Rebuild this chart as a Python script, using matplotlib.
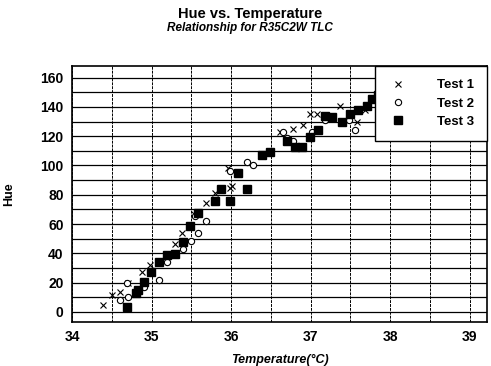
import numpy as np
import matplotlib.pyplot as plt

plt.rcParams['font.family'] = ['Liberation Sans', 'DejaVu Sans']

# Test 1 (x markers)
t1_temp = [34.39, 34.50, 34.60, 34.71, 34.88, 34.98, 35.30, 35.38, 35.53, 35.69,
           35.80, 35.96, 35.99, 36.01, 36.62, 36.78, 36.91, 36.99, 37.08, 37.37,
           37.58, 37.69]
t1_hue = [4.7, 11.5, 13.7, 19.4, 27.2, 31.8, 46.4, 54.0, 66.7, 74.5,
          81.3, 98.0, 84.7, 85.8, 123.0, 125.0, 128.0, 135.0, 135.0, 141.0,
          129.7, 137.6]

# Test 2 (open circles)
t2_temp = [34.60, 34.69, 34.71, 34.90, 35.09, 35.20, 35.40, 35.50, 35.55, 35.59,
           35.69, 35.99, 36.20, 36.28, 36.65, 36.70, 36.78, 37.02, 37.18, 37.48,
           37.56]
t2_hue = [8.0, 20.0, 10.4, 17.0, 21.6, 34.0, 43.0, 48.6, 65.5, 54.0,
          62.0, 96.0, 102.7, 100.5, 123.0, 118.5, 117.0, 123.0, 131.0, 131.0,
          124.5]

# Test 3 (filled squares)
t3_temp = [34.69, 34.81, 34.83, 34.90, 34.99, 35.09, 35.20, 35.30, 35.40, 35.48,
           35.59, 35.80, 35.88, 35.99, 36.09, 36.20, 36.39, 36.49, 36.70, 36.80,
           36.89, 36.99, 37.10, 37.18, 37.27, 37.39, 37.50, 37.60, 37.71, 37.77,
           37.85]
t3_hue = [3.6, 12.6, 15.0, 20.5, 27.0, 34.0, 38.5, 39.7, 47.5, 58.8,
          67.8, 75.7, 83.6, 75.7, 94.8, 83.6, 107.0, 109.5, 117.0, 112.8,
          112.8, 119.6, 124.0, 134.0, 133.0, 129.7, 135.3, 137.6, 141.0, 145.5,
          148.0]

fig = plt.figure(figsize=(4.91, 3.66), dpi=100)
ax = fig.add_axes([0.1466, 0.120, 0.8454, 0.6997])

ax.plot(t1_temp, t1_hue, 'x', color='black', markersize=4.5, markeredgewidth=0.8,
        label='Test 1')
ax.plot(t2_temp, t2_hue, 'o', mfc='white', mec='black', markersize=4.5,
        markeredgewidth=0.8, label='Test 2')
ax.plot(t3_temp, t3_hue, 's', color='black', markersize=5.2, label='Test 3')

ax.set_xlim(34, 39.22)
ax.set_ylim(-7, 168)
ax.set_xticks(np.arange(34, 39.5, 0.5), minor=True)
ax.set_xticks(np.arange(34, 40, 1))
ax.set_yticks(np.arange(0, 170, 10), minor=True)
ax.set_yticks(np.arange(0, 170, 20))
ax.grid(which='both', axis='y', color='black', linewidth=0.9)
ax.grid(which='both', axis='x', color='black', linewidth=0.7, linestyle=(0, (3, 1)))
ax.tick_params(which='both', length=0, labelsize=10, pad=6)
for lab in ax.get_xticklabels() + ax.get_yticklabels():
    lab.set_fontweight('bold')
for s in ax.spines.values():
    s.set_linewidth(1.2)

ax.set_xlabel('Temperature(\u00b0C)', fontsize=9, fontweight='bold', style='italic',
              labelpad=7)
ax.set_ylabel('Hue', fontsize=9, fontweight='bold', labelpad=18)

leg = ax.legend(loc='upper right', bbox_to_anchor=(0.73, 0.715, 0.27, 0.285),
                mode='expand', borderaxespad=0, frameon=True, fancybox=False,
                framealpha=1, prop={'weight': 'bold', 'size': 9.5},
                handletextpad=2.2, labelspacing=0.45, borderpad=1.0,
                handlelength=1.5)
leg.get_frame().set_edgecolor('black')
leg.get_frame().set_linewidth(1.0)
leg.set_zorder(5)

fig.text(0.51, 0.963, 'Hue vs. Temperature', ha='center', va='center',
         fontsize=10.5, fontweight='bold')
fig.text(0.51, 0.924, 'Relationship for R35C2W TLC', ha='center', va='center',
         fontsize=8.5, fontweight='bold', style='italic')

fig.savefig('out.png', dpi=100)
